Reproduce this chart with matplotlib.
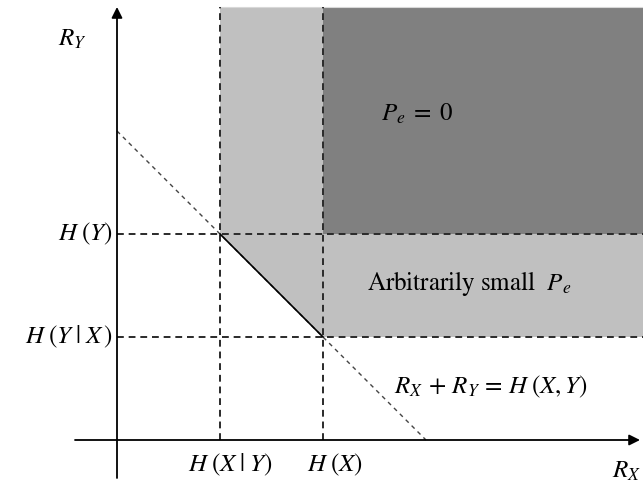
import numpy as np
import matplotlib
matplotlib.use("Agg")
import matplotlib.pyplot as plt

# Slepian-Wolf rate region (entropy values in bits)
H_X_given_Y = 1.0
H_X = 2.0
H_Y_given_X = 1.0
H_Y = 2.0
H_XY = 3.0
x_ticks = [H_X_given_Y, H_X]
y_ticks = [H_Y_given_X, H_Y]
x_tick_labels = [r"$H\;(X\;|\;Y)$", r"$H\;(X)$"]
y_tick_labels = [r"$H\;(Y)$", r"$H\;(Y\;|\;X\,)$"]

plt.rcParams.update({"mathtext.fontset": "stix", "font.family": "STIXGeneral",
                     "font.size": 12})

LIGHT, DARK = "#c0c0c0", "#808080"
XMIN, XMAX = -117/103, 526/103
YMIN, YMAX = -43/103, 440/103
TOP = 433/103        # top edge of the shaded regions
RIGHT = XMAX + 0.05
FS = 18

fig = plt.figure(figsize=(6.43, 4.83), dpi=100)
ax = fig.add_axes([0, 0, 1, 1])
ax.set_xlim(XMIN, XMAX); ax.set_ylim(YMIN, YMAX)
ax.axis("off")

# achievable region (light) and zero-error region (dark)
ax.fill([H_X_given_Y, H_X_given_Y, H_X, RIGHT, RIGHT],
        [TOP, H_Y, H_Y_given_X, H_Y_given_X, TOP], color=LIGHT, lw=0, zorder=1)
ax.fill([H_X, H_X, RIGHT, RIGHT], [H_Y, TOP, TOP, H_Y], color=DARK, lw=0, zorder=2)
ax.plot([H_X_given_Y, RIGHT], [TOP, TOP], color="#d8d8d8", lw=0.8, zorder=2)

# dashed guides
dash = dict(color="#2a2a2a", lw=1.4, ls=(0, (3.5, 2.5)), zorder=3)
for xv in x_ticks:
    ax.plot([xv, xv], [0, TOP], **dash)
for yv in y_ticks:
    ax.plot([0, RIGHT], [yv, yv], **dash)
ax.plot([0, H_XY], [H_XY, 0], color="#444444", lw=1.0, ls=(0, (3, 3)), zorder=3)
ax.plot([H_X_given_Y, H_X], [H_Y, H_Y_given_X], color="black", lw=1.2, zorder=4)

# axes with arrows
ax.annotate("", xy=(XMAX - 3/103, 0), xytext=(-42/103, 0),
            arrowprops=dict(arrowstyle="-|>", color="black", lw=1.3,
                            mutation_scale=16, shrinkA=0, shrinkB=0), zorder=5)
ax.annotate("", xy=(0, YMAX - 7/103), xytext=(0, -38/103),
            arrowprops=dict(arrowstyle="-|>", color="black", lw=1.3,
                            mutation_scale=16, shrinkA=0, shrinkB=0), zorder=5)

# labels
ax.text(-45/103, 400/103, r"$R_Y$", ha="center", va="center", fontsize=FS)
ax.text(510/103, -32/103, r"$R_X$", ha="center", va="center", fontsize=FS)
ax.text(-4/103, H_Y, y_tick_labels[0], ha="right", va="center", fontsize=FS)
ax.text(-4/103, H_Y_given_X, y_tick_labels[1], ha="right", va="center", fontsize=FS)
ax.text(H_X_given_Y + 10/103, -25/103, x_tick_labels[0], ha="center", va="center", fontsize=FS)
ax.text(H_X + 12/103, -25/103, x_tick_labels[1], ha="center", va="center", fontsize=FS)
ax.text(300/103, 325/103, r"$P_e\;=\;0$", ha="center", va="center", fontsize=FS)
ax.text(352/103, 157/103, r"Arbitrarily small  $P_e$", ha="center", va="center", fontsize=FS)
ax.text(374/103, 53/103, r"$R_X \,+\, R_Y \,=\, H\;(X,Y)$", ha="center", va="center", fontsize=FS)

fig.savefig("out.png", dpi=100)
